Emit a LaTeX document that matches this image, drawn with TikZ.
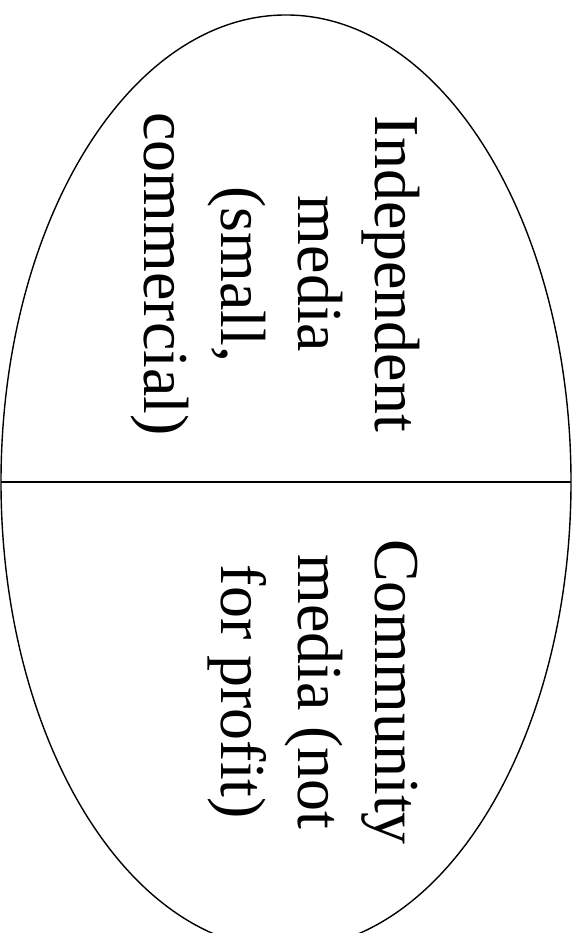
\documentclass[tikz,border=0pt]{standalone}
\usepackage{fontspec}
\setmainfont{Liberation Serif}
\begin{document}
\begin{tikzpicture}[x=1pt,y=1pt,
  lbl/.style={rotate=-90,anchor=base,inner sep=0pt,font=\fontsize{64}{77}\selectfont},
  outline/.style={line width=1.4pt,draw=black}]
\useasboundingbox (0,0) rectangle (582,933);
\clip (0,0) rectangle (582,933);
\draw[outline] (286,451) ellipse [x radius=285, y radius=467];
\coordinate (L) at (1,451);
\coordinate (R) at (571,451);
\draw[outline] (L) -- (R);
% left group (top half)
\node[lbl] (a1) at (375,659) {Independent};
\node[lbl] (a2) at (298,659) {media};
\node[lbl] (a3) at (221,659) {(small,};
\node[lbl] (a4) at (144,659) {commercial)};
% right group (bottom half)
\node[lbl] (b1) at (375,241) {Community};
\node[lbl] (b2) at (298,241) {media (not};
\node[lbl] (b3) at (221,241) {for profit)};
\end{tikzpicture}
\end{document}
